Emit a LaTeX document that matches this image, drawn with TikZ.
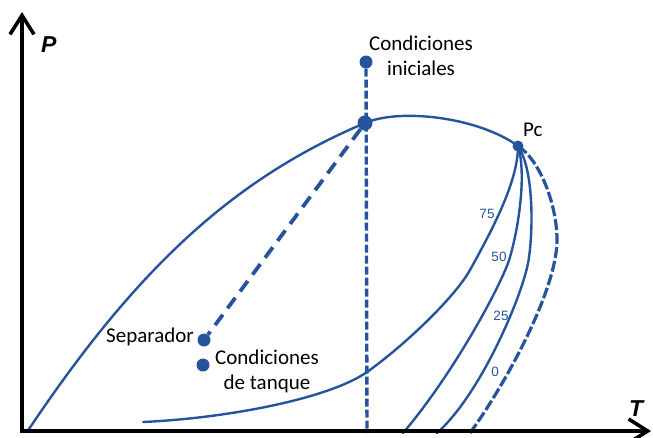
\documentclass[tikz,border=0pt]{standalone}
\usepackage{fontspec}
\setmainfont{Carlito}
\newfontfamily\arialfont{Liberation Sans}
\usetikzlibrary{arrows.meta}
\definecolor{pblue}{RGB}{38,84,156}
\begin{document}
\begin{tikzpicture}[x=1pt,y=-1pt,
  curve/.style={pblue, line width=2.4pt, line cap=round},
  dashcurve/.style={pblue, line width=3.2pt, dash pattern=on 11pt off 3pt},
  dot/.style={circle, fill=pblue, inner sep=0pt, minimum size=#1},
  lbl/.style={font=\fontsize{21}{25}\selectfont, inner sep=0pt},
  num/.style={pblue, font=\arialfont\fontsize{13.5}{13.5}\selectfont, inner sep=0pt},
  axlbl/.style={font=\arialfont\bfseries\itshape\fontsize{23}{23}\selectfont, inner sep=0pt},
  axis/.style={line width=3.6pt, line join=miter, {Straight Barb[length=19pt,width=24pt]}-{Straight Barb[length=19pt,width=24pt]}}]
\useasboundingbox (0,0) rectangle (653,437);

% dots
\node[dot=13pt] (ini) at (366,62) {};
\node[dot=15pt] (ci) at (365,123) {};
\node[dot=11pt] (pc) at (518,146) {};
\node[dot=13pt] (sep) at (204,340) {};
\node[dot=13pt] (tan) at (203,365) {};
\coordinate (vbot) at (367,433);

% envelope curve
\draw[curve] (27,432) .. controls (137,267) and (235,178) .. (ci.center)
  .. controls (400,108) and (478,117) .. (pc.center);

% quality lines
\draw[curve] (pc.center) .. controls (518,180) and (495,225) .. (470,270)
  .. controls (455,297) and (405,345) .. (367,372)
  .. controls (330,398) and (230,418) .. (143,422);
\draw[curve] (pc.center) .. controls (527,175) and (518,230) .. (510,257)
  .. controls (504,280) and (455,372) .. (403,433);
\draw[curve] (pc.center) .. controls (534,170) and (533,230) .. (529,257)
  .. controls (526,287) and (483,392) .. (437,433);
\draw[dashcurve] (pc.center) .. controls (540,160) and (557,205) .. (557,240)
  .. controls (557,290) and (505,385) .. (470,433);

% dashed connectors
\draw[pblue, line width=3.4pt, dash pattern=on 8pt off 3pt] (ini) -- (vbot);
\draw[pblue, line width=3.8pt, dash pattern=on 13pt off 8pt] (ci) -- (sep);

% labels
\node[lbl, align=center] (tini) at (421,56) {Condiciones\\iniciales};
\node[lbl, anchor=base east] (tsep) at (194,342) {Separador};
\node[lbl, align=center] (ttan) at (267,371) {Condiciones\\de tanque};
\node[lbl, anchor=base west] (tpc) at (523,136) {Pc};
\node[num] (n75) at (487,214) {75};
\node[num] (n50) at (499,257) {50};
\node[num] (n25) at (501,316) {25};
\node[num] (n0) at (495,372) {0};

% axes
\coordinate (ptop) at (22,12);
\coordinate (orig) at (22,431);
\coordinate (tend) at (651,431);
\draw[axis] (ptop) -- (orig) -- (tend);
\node[axlbl, anchor=base west] (tp) at (41,52) {P};
\node[axlbl, anchor=base west] (tt) at (629,416) {T};
\end{tikzpicture}
\end{document}
